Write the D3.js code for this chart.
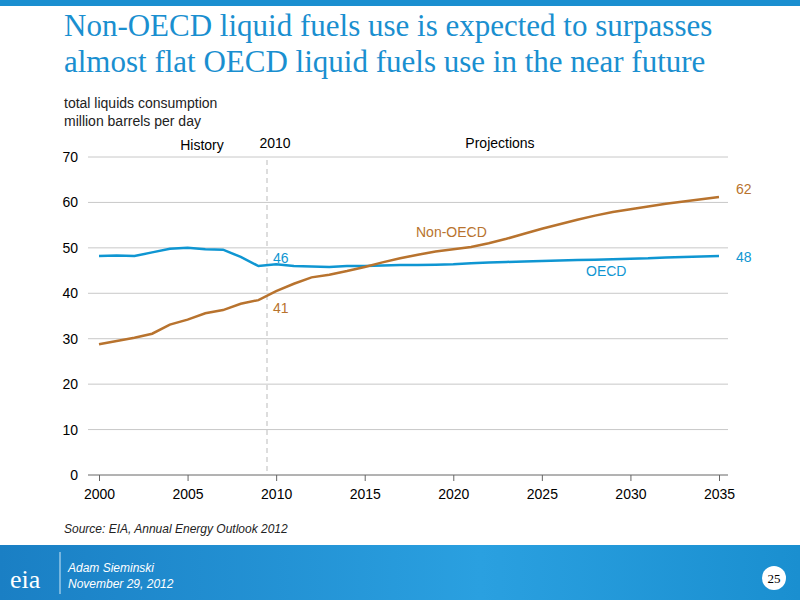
<!DOCTYPE html>
<html><head><meta charset="utf-8">
<script src="https://cdn.jsdelivr.net/npm/d3@7"></script>
<style>body{margin:0;background:#fff;font-family:Arial,"Liberation Sans",sans-serif}</style>
</head><body><svg id="c" width="800" height="600"></svg>
<script>
const years = d3.range(2000, 2036);
const oecd = [48.2,48.3,48.2,49.0,49.8,50.0,49.7,49.6,48.0,46.0,46.4,46.0,45.9,45.8,46.0,46.0,46.1,46.2,46.2,46.3,46.4,46.6,46.8,46.9,47.0,47.1,47.2,47.3,47.4,47.5,47.6,47.7,47.9,48.0,48.1,48.2];
const nonOecd = [28.8,29.5,30.2,31.1,33.1,34.2,35.6,36.3,37.7,38.5,40.5,42.1,43.5,44.1,44.9,45.8,46.8,47.7,48.5,49.2,49.7,50.2,51.0,52.0,53.1,54.2,55.2,56.2,57.1,57.9,58.5,59.1,59.7,60.2,60.7,61.2];
const yTicks = [0,10,20,30,40,50,60,70];
const xTicks = [2000,2005,2010,2015,2020,2025,2030,2035];
const blue = "#0f96d2", brown = "#b8732e";

const svg = d3.select("#c");
svg.append("rect").attr("width",800).attr("height",6).attr("fill","#1a8fd0");
svg.append("text").attr("x",64).attr("y",36).attr("fill","#1a8fd0").attr("font-family","Liberation Serif,serif").attr("font-size",31).text("Non-OECD liquid fuels use is expected to surpasses");
svg.append("text").attr("x",64).attr("y",72).attr("fill","#1a8fd0").attr("font-family","Liberation Serif,serif").attr("font-size",31).text("almost flat OECD liquid fuels use in the near future");
svg.append("text").attr("x",64).attr("y",108).attr("font-size",14).attr("fill","#222").text("total liquids consumption");
svg.append("text").attr("x",64).attr("y",126).attr("font-size",14).attr("fill","#222").text("million barrels per day");

const x = d3.scaleLinear().domain([2000,2035]).range([99,719]);
const y = d3.scaleLinear().domain([0,70]).range([475,157]);

svg.append("g").selectAll("line").data(yTicks.slice(1)).join("line")
  .attr("x1",88).attr("x2",728).attr("y1",d=>y(d)).attr("y2",d=>y(d)).attr("stroke","#c8c8c8");
svg.append("g").selectAll("text").data(yTicks).join("text")
  .attr("x",78).attr("y",d=>y(d)+5).attr("text-anchor","end").attr("font-size",14).text(d=>d);
svg.append("g").attr("transform","translate(0,475)")
  .call(d3.axisBottom(x).tickValues(xTicks).tickFormat(d3.format("d")).tickSizeOuter(0))
  .call(g=>g.select(".domain").attr("d","M88,0H728"))
  .call(g=>g.selectAll("text").attr("font-size",14).attr("fill","#000").attr("dy","1.1em"))
  .call(g=>g.selectAll("line,.domain").attr("stroke","#666"));

svg.append("line").attr("x1",267).attr("x2",267).attr("y1",160).attr("y2",475)
  .attr("stroke","#bbb").attr("stroke-dasharray","5,4");
svg.append("text").attr("x",202).attr("y",150).attr("text-anchor","middle").attr("font-size",14).text("History");
svg.append("text").attr("x",275).attr("y",148).attr("text-anchor","middle").attr("font-size",14).text("2010");
svg.append("text").attr("x",500).attr("y",148).attr("text-anchor","middle").attr("font-size",14).text("Projections");

const line = d3.line().x((d,i)=>x(years[i])).y(d=>y(d));
svg.append("path").datum(oecd).attr("d",line).attr("fill","none").attr("stroke",blue).attr("stroke-width",2.5);
svg.append("path").datum(nonOecd).attr("d",line).attr("fill","none").attr("stroke",brown).attr("stroke-width",2.5);

const lbl=(t,xx,yy,c,a)=>svg.append("text").attr("x",xx).attr("y",yy).attr("fill",c).attr("font-size",14).attr("text-anchor",a||"start").text(t);
lbl("46",273,263,blue); lbl("41",273,313,brown);
lbl("48",736,262,blue); lbl("62",736,194,brown);
lbl("Non-OECD",416,237,brown); lbl("OECD",586,276,blue);
svg.append("text").attr("x",64).attr("y",533).attr("font-size",12).attr("font-style","italic").attr("fill","#222").text("Source:  EIA, Annual Energy Outlook 2012");

const grad = svg.append("defs").append("linearGradient").attr("id","fg");
grad.append("stop").attr("offset","0").attr("stop-color","#1a7fc4");
grad.append("stop").attr("offset","0.6").attr("stop-color","#2aa0e0");
grad.append("stop").attr("offset","1").attr("stop-color","#1a8fd0");
svg.append("rect").attr("y",545).attr("width",800).attr("height",55).attr("fill","url(#fg)");
svg.append("text").attr("x",10).attr("y",588).attr("fill","#fff").attr("font-family","Liberation Serif,serif").attr("font-size",26).text("eia");
svg.append("line").attr("x1",60).attr("x2",60).attr("y1",552).attr("y2",594).attr("stroke","#cfe8f7");
svg.append("text").attr("x",68).attr("y",572).attr("fill","#fff").attr("font-size",12).attr("font-style","italic").text("Adam Sieminski");
svg.append("text").attr("x",68).attr("y",588).attr("fill","#fff").attr("font-size",12).attr("font-style","italic").text("November 29, 2012");
svg.append("circle").attr("cx",774).attr("cy",578).attr("r",12).attr("fill","#fff");
svg.append("text").attr("x",774).attr("y",583).attr("text-anchor","middle").attr("font-family","Liberation Serif,serif").attr("font-size",13).text("25");
</script></body></html>
